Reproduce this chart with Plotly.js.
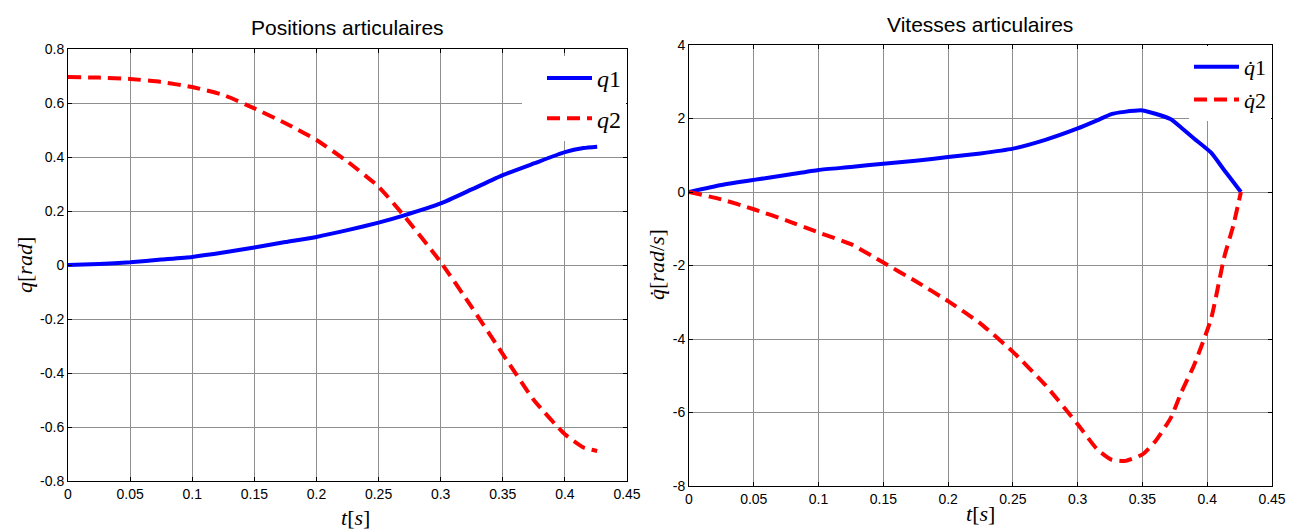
<!DOCTYPE html>
<html>
<head>
<meta charset="utf-8">
<script src="https://cdn.plot.ly/plotly-3.0.1.min.js"></script>
<style>html,body{margin:0;padding:0;background:#fff;}#chart{width:1302px;height:531px;}</style>
</head>
<body>
<div id="chart"></div>
<script>
// ---- Data ----
const tPos = [0,0.025,0.05,0.075,0.1,0.125,0.15,0.175,0.2,0.225,0.25,0.27,0.3,0.325,0.35,0.375,0.4,0.415,0.426];
const q1   = [0,0.004,0.01,0.02,0.03,0.046,0.065,0.085,0.104,0.129,0.157,0.183,0.228,0.28,0.333,0.376,0.418,0.433,0.438];
const q2   = [0.696,0.694,0.689,0.678,0.659,0.63,0.58,0.525,0.463,0.383,0.29,0.185,0.011,-0.156,-0.33,-0.5,-0.627,-0.676,-0.689];

const tVel = [0,0.025,0.05,0.075,0.1,0.125,0.15,0.175,0.2,0.225,0.25,0.275,0.3,0.315,0.326,0.336,0.35,0.36,0.372,0.38,0.39,0.403,0.413,0.42,0.426];
const dq1  = [0,0.19,0.33,0.46,0.6,0.68,0.77,0.85,0.95,1.05,1.18,1.42,1.73,1.95,2.12,2.18,2.22,2.13,1.98,1.75,1.45,1.07,0.6,0.28,0];
const dq2  = [0,-0.2,-0.47,-0.77,-1.1,-1.42,-1.92,-2.43,-2.97,-3.58,-4.35,-5.25,-6.32,-7.0,-7.28,-7.32,-7.14,-6.78,-6.14,-5.45,-4.7,-3.45,-1.79,-0.93,0];

const xTickVals = [0,0.05,0.1,0.15,0.2,0.25,0.3,0.35,0.4,0.45];
const xTickText = ["0","0.05","0.1","0.15","0.2","0.25","0.3","0.35","0.4","0.45"];
const yPosVals = [-0.8,-0.6,-0.4,-0.2,0,0.2,0.4,0.6,0.8];
const yPosText = ["-0.8","-0.6","-0.4","-0.2","0","0.2","0.4","0.6","0.8"];
const yVelVals = [-8,-6,-4,-2,0,2,4];
const yVelText = ["-8","-6","-4","-2","0","2","4"];

const titles = ["Positions articulaires","Vitesses articulaires"];
const names = ["<i>q</i>1","<i>q</i>2","<i>q̇</i>1","<i>q̇</i>2"];

const BLUE = "#0000ff", RED = "#ff0000";
const SERIF = "Liberation Serif, Times New Roman, serif";
const SANS = "Liberation Sans, Arial, sans-serif";

const lineBlue = {color:BLUE, width:4, shape:"spline", smoothing:0.5};
const lineRed = {color:RED, width:4, dash:"13px,7px", shape:"spline", smoothing:0.5};

const traces = [
  {x:tPos, y:q1, name:names[0], type:"scatter", mode:"lines", xaxis:"x", yaxis:"y",
   line:lineBlue, legend:"legend", legendgroup:"a"},
  {x:tPos, y:q2, name:names[1], type:"scatter", mode:"lines", xaxis:"x", yaxis:"y",
   line:lineRed, legend:"legend", legendgroup:"b"},
  {x:tVel, y:dq1, name:names[2], type:"scatter", mode:"lines", xaxis:"x2", yaxis:"y2",
   line:lineBlue, legend:"legend2", legendgroup:"c"},
  {x:tVel, y:dq2, name:names[3], type:"scatter", mode:"lines", xaxis:"x2", yaxis:"y2",
   line:lineRed, legend:"legend2", legendgroup:"d"}
];

function axisBase(extra){
  return Object.assign({
    showline:true, linecolor:"#000", linewidth:1, mirror:"allticks",
    ticks:"inside", ticklen:4, tickcolor:"#000", tickwidth:1,
    showgrid:true, gridcolor:"#8f8f8f", gridwidth:1, zeroline:false,
    tickfont:{family:SANS, size:14, color:"#000"}, tickmode:"array", fixedrange:true
  }, extra);
}

const W = 1302, H = 531;
const fx = px => px / W;
const fy = py => (H - py) / H;

function ann(text, x, y, font, size, angle){
  return {text:text, xref:"paper", yref:"paper", x:fx(x), y:fy(y), xanchor:"center", yanchor:"middle",
          showarrow:false, textangle:angle||0, font:{family:font, size:size, color:"#000"}};
}

const layout = {
  width:W, height:H, margin:{l:0,r:0,t:0,b:0},
  paper_bgcolor:"#fff", plot_bgcolor:"#fff", showlegend:true,
  xaxis: axisBase({domain:[fx(68),fx(627)], range:[0,0.45], tickvals:xTickVals, ticktext:xTickText, anchor:"y"}),
  yaxis: axisBase({domain:[fy(481),fy(49)], range:[-0.8,0.8], tickvals:yPosVals, ticktext:yPosText, anchor:"x"}),
  xaxis2: axisBase({domain:[fx(689),fx(1272)], range:[0,0.45], tickvals:xTickVals, ticktext:xTickText, anchor:"y2"}),
  yaxis2: axisBase({domain:[fy(486),fy(45)], range:[-8,4], tickvals:yVelVals, ticktext:yVelText, anchor:"x2"}),
  legend: {x:fx(626), xanchor:"right", y:fy(56), yanchor:"top", bgcolor:"#fff", borderwidth:0,
           font:{family:SERIF, size:24, color:"#000"}, itemwidth:45, traceorder:"grouped", tracegroupgap:6,
           indentation:20},
  legend2: {x:fx(1271), xanchor:"right", y:fy(46), yanchor:"top", bgcolor:"#fff", borderwidth:0,
           font:{family:SERIF, size:22, color:"#000"}, itemwidth:45, traceorder:"grouped", tracegroupgap:1},
  annotations: [
    ann(titles[0], 347, 28, SANS, 21),
    ann(titles[1], 980, 24, SANS, 21),
    ann("<i>t</i>[<i>s</i>]", 355, 517, SERIF, 22),
    ann("<i>t</i>[<i>s</i>]", 980, 513, SERIF, 22),
    ann("<i>q</i>[<i>rad</i>]", 24, 265, SERIF, 22, -90),
    ann("<i>q̇</i>[<i>rad</i>/<i>s</i>]", 656, 265, SERIF, 22, -90)
  ]
};

Plotly.newPlot("chart", traces, layout, {displayModeBar:false, staticPlot:true});
</script>
</body>
</html>
